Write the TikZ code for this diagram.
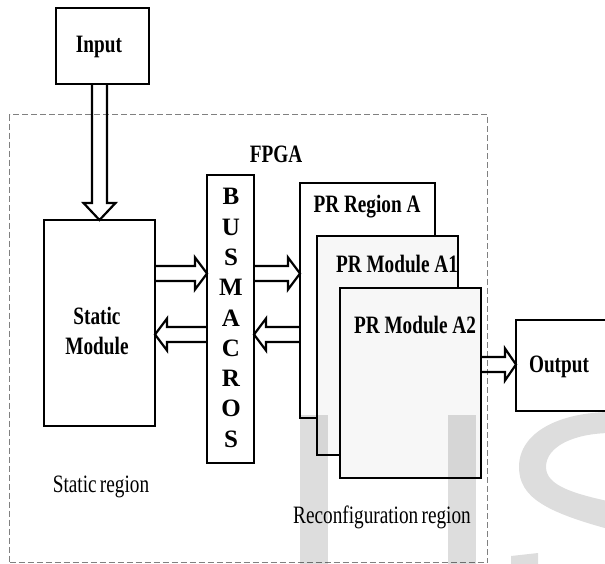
\documentclass[tikz,border=0pt]{standalone}
\usepackage{fontspec}
\setmainfont{Liberation Serif}
\usetikzlibrary{calc}
% narrow setting of the labels
\newcommand\sqz[1]{\scalebox{0.77}[1]{#1}}
% hollow block arrow, horizontal: tail, tip, signed head length
\newcommand\hblock[3]{%
  \draw[blk] let \p1=#1, \p2=#2 in
    (\x1,{\y1+7.5pt}) -- ({\x2+#3},{\y1+7.5pt}) -- ({\x2+#3},{\y1+16pt}) -- (\x2,\y1)
    -- ({\x2+#3},{\y1-16pt}) -- ({\x2+#3},{\y1-7.5pt}) -- (\x1,{\y1-7.5pt});}
% hollow block arrow, vertical: tail, tip, signed head length
\newcommand\vblock[3]{%
  \draw[blk] let \p1=#1, \p2=#2 in
    ({\x1-7.5pt},\y1) -- ({\x1-7.5pt},{\y2+#3}) -- ({\x1-16pt},{\y2+#3}) -- (\x1,\y2)
    -- ({\x1+16pt},{\y2+#3}) -- ({\x1+7.5pt},{\y2+#3}) -- ({\x1+7.5pt},\y1);}
\begin{document}
\begin{tikzpicture}[x=1pt,y=-1pt,
  box/.style={draw, line width=2.2pt, anchor=north west, inner sep=0pt, outer sep=0pt, fill=white},
  modbox/.style={box, fill=black!3},
  lbl/.style={inner sep=0pt, anchor=base, font=\fontsize{25pt}{30pt}\selectfont\bfseries},
  plainlbl/.style={inner sep=0pt, anchor=base, font=\fontsize{25pt}{30pt}\selectfont},
  blk/.style={draw, line width=2.2pt, line join=miter},
  fpgaframe/.style={draw=black!50, line width=1.4pt, dash pattern=on 6pt off 3pt, anchor=north west, inner sep=0pt},
  wmark/.style={fill=black, opacity=0.135}]
\useasboundingbox (0,0) rectangle (605,564);
\clip (0,0) rectangle (605,564);

% FPGA boundary
\node[fpgaframe, minimum width=478pt, minimum height=448pt] (fpga) at (9,114) {};

% blocks
\node[box, minimum width=93pt,  minimum height=76pt]  (input)  at (56,8) {};
\node[box, minimum width=111pt, minimum height=206pt] (static) at (44,220) {};
\node[box, minimum width=47pt,  minimum height=288pt] (bus)    at (207,175) {};
\node[box, minimum width=135pt, minimum height=235pt] (regA)   at (300,183) {};
\node[modbox, minimum width=141pt, minimum height=219pt] (modA1) at (317,236) {};
\node[modbox, minimum width=141pt, minimum height=190pt] (modA2) at (340,288) {};
\node[box, minimum width=110pt, minimum height=91pt]  (output) at (516,320) {};

% arrow levels
\coordinate (yR) at (0,273.5);
\coordinate (yL) at (0,334.5);
\coordinate (yO) at (0,364.5);

% block arrows
\vblock{(static.north |- input.south)}{(static.north)}{17pt}
\hblock{(static.east |- yR)}{(bus.west |- yR)}{-12pt}
\hblock{(bus.west |- yL)}{(static.east |- yL)}{12pt}
\hblock{(bus.east |- yR)}{(regA.west |- yR)}{-12pt}
\hblock{(regA.west |- yL)}{(bus.east |- yL)}{12pt}
\hblock{(modA2.east |- yO)}{(output.west |- yO)}{-11pt}

% labels
\node[lbl] (tInput) at (99,53) {\sqz{Input}};
\node[lbl] (tFPGA) at (276,163) {\sqz{FPGA}};
\node[lbl, anchor=center, align=center] (tStatic) at (97,331) {\sqz{Static}\\\sqz{Module}};
\foreach \c [count=\i] in {B,U,S,M,A,C,R,O,S}
  \node[lbl] (bm\i) at (231,{205+30.25*(\i-1)}) {\c};
\node[lbl] (tRegA) at (367,213) {\sqz{PR Region A}};
\node[lbl] (tA1) at (397,272) {\sqz{PR Module A1}};
\node[lbl] (tA2) at (415,333) {\sqz{PR Module A2}};
\node[lbl] (tOut) at (559,372) {\sqz{Output}};
\node[plainlbl] (tSreg) at (101,492) {\sqz{Static\hspace{-2pt} region}};
\node[plainlbl] (tRreg) at (382,523) {\sqz{Reconfiguration\hspace{-2pt} region}};

% faint letters in the lower right
\fill[wmark] (300,415) rectangle (328,570);
\fill[wmark] (448,415) rectangle (476,570);
\fill[wmark] (612,412) .. controls (560,412) and (519,432) .. (519,467)
  .. controls (519,497) and (545,512) .. (612,530) -- (612,502)
  .. controls (575,494) and (546,486) .. (546,467)
  .. controls (546,446) and (575,433) .. (612,433) -- cycle;
\fill[wmark] (511,556) -- (538,553) -- (538,570) -- (511,570) -- cycle;
\end{tikzpicture}
\end{document}
